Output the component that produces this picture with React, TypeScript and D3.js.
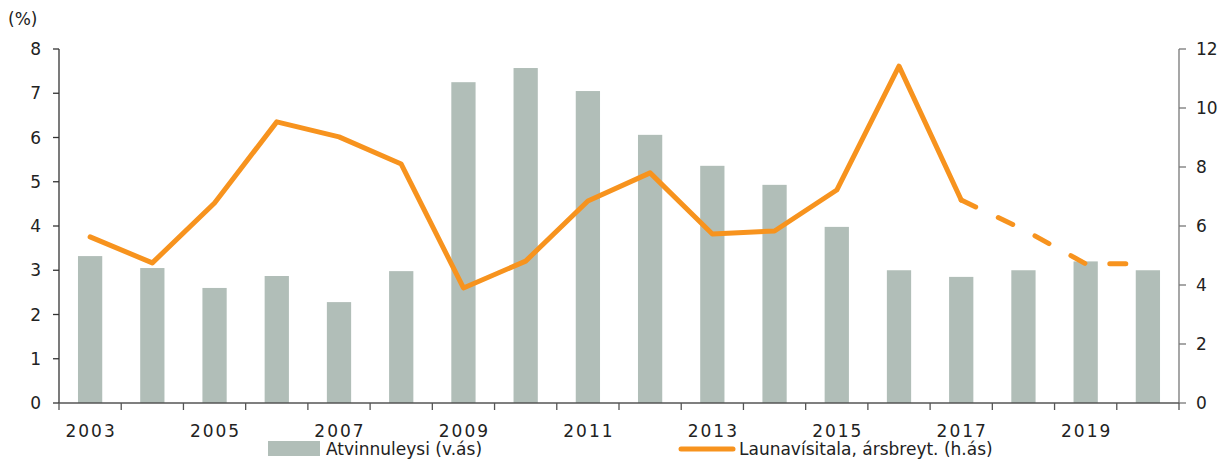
import React from "react";
import * as d3 from "d3";

const years = ["2003","2004","2005","2006","2007","2008","2009","2010","2011","2012","2013","2014","2015","2016","2017","2018","2019","2020"];
const unemployment = [3.32,3.05,2.6,2.87,2.28,2.98,7.25,7.57,7.05,6.06,5.36,4.93,3.98,3.0,2.85,3.0,3.2,3.0];
const wageIndex = [5.63,4.75,6.78,9.53,9.02,8.1,3.9,4.81,6.85,7.8,5.73,5.83,7.22,11.42,6.88,5.88,4.72,4.72];
const leftTicks = [0,1,2,3,4,5,6,7,8];
const rightTicks = [0,2,4,6,8,10,12];
const forecastFrom = "2017";

const W = 1218, H = 461;
const M = { left: 59, right: 1179, top: 49, bottom: 403 };
const FONT = "'DejaVu Sans', sans-serif";
const BAR = "#b1beb8";
const LINE = "#f7931e";
const FS = 17;
const NUMSP = 2;

export default function App() {
  const x = d3.scaleBand<string>().domain(years).range([M.left, M.right]).paddingInner(0).paddingOuter(0);
  const yL = d3.scaleLinear().domain([0, 8]).range([M.bottom, M.top]);
  const yR = d3.scaleLinear().domain([0, 12]).range([M.bottom, M.top]);
  const bw = x.bandwidth() * 0.39;
  const cx = (y: string) => (x(y) as number) + x.bandwidth() / 2;
  const pts = years.map((y, i) => ({ y, v: wageIndex[i] }));
  const fi = years.indexOf(forecastFrom);
  const line = d3.line<{ y: string; v: number }>().x(d => cx(d.y)).y(d => yR(d.v));
  const solid = line(pts.slice(0, fi + 1)) || "";
  const dashed = line(pts.slice(fi)) || "";
  const boundaries = years.map(y => x(y) as number).concat([M.right]);

  return (
    <svg width={W} height={H} style={{ position: "absolute", left: 0, top: 0, background: "#fff" }} fontFamily={FONT}>
      {years.map((y, i) => (
        <rect key={y} x={cx(y) - bw / 2} y={yL(unemployment[i])} width={bw} height={yL(0) - yL(unemployment[i])} fill={BAR} />
      ))}
      <path d={solid} fill="none" stroke={LINE} strokeWidth={5} strokeLinejoin="round" strokeLinecap="round" />
      <path d={dashed} fill="none" stroke={LINE} strokeWidth={5} strokeLinecap="round" strokeDasharray="16 25" />
      {/* left axis */}
      <line x1={M.left} x2={M.left} y1={M.top} y2={M.bottom} stroke="#333" strokeWidth={1.3} />
      {leftTicks.map(t => (
        <g key={t}>
          <line x1={M.left - 6} x2={M.left} y1={yL(t)} y2={yL(t)} stroke="#333" strokeWidth={1.3} />
          <text x={41} y={yL(t)} dy="0.36em" textAnchor="end" fontSize={FS} fill="#222">{t}</text>
        </g>
      ))}
      {/* right axis */}
      <line x1={M.right} x2={M.right} y1={M.top} y2={M.bottom} stroke="#777" strokeWidth={1.3} />
      {rightTicks.map(t => (
        <g key={t}>
          <line x1={M.right} x2={M.right + 7} y1={yR(t)} y2={yR(t)} stroke="#777" strokeWidth={1.3} />
          <text x={1196} y={yR(t)} dy="0.36em" textAnchor="start" fontSize={FS} fill="#222">{t}</text>
        </g>
      ))}
      {/* x axis */}
      <line x1={M.left} x2={M.right} y1={M.bottom} y2={M.bottom} stroke="#555" strokeWidth={1.3} />
      {boundaries.map((b, i) => (
        <line key={i} x1={b} x2={b} y1={M.bottom} y2={M.bottom + 7} stroke="#555" strokeWidth={1.3} />
      ))}
      {years.map((y, i) => i % 2 === 0 ? (
        <text key={y} x={cx(y) + NUMSP / 2} y={431} dy="0.36em" textAnchor="middle" fontSize={FS} fill="#222" letterSpacing={NUMSP}>{y}</text>
      ) : null)}
      <text x={8} y={19} dy="0.36em" fontSize={FS} fill="#222">(%)</text>
      {/* legend */}
      <rect x={268} y={441} width={52} height={15} fill={BAR} />
      <text x={326} y={449} dy="0.36em" fontSize={FS} fill="#222">Atvinnuleysi (v.ás)</text>
      <line x1={681} x2={733} y1={449} y2={449} stroke={LINE} strokeWidth={5} strokeLinecap="round" />
      <text x={739} y={449} dy="0.36em" fontSize={FS} fill="#222">Launavísitala, ársbreyt. (h.ás)</text>
    </svg>
  );
}
